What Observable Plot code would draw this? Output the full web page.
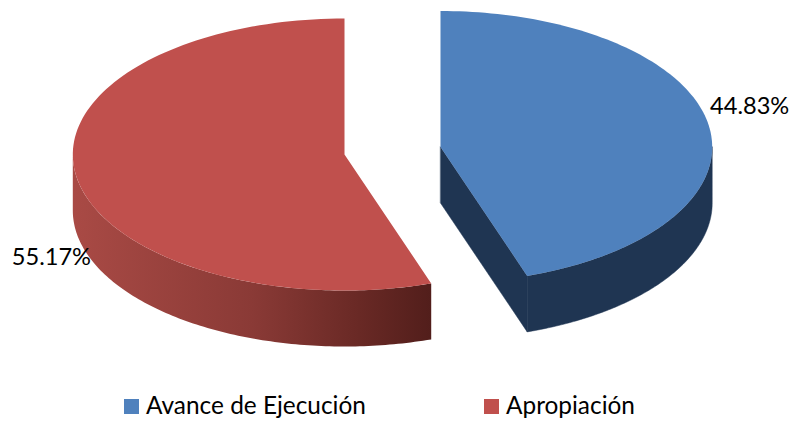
<!DOCTYPE html>
<html>
<head>
<meta charset="utf-8">
<script src="https://cdn.jsdelivr.net/npm/d3@7"></script>
<script src="https://cdn.jsdelivr.net/npm/@observablehq/plot@0.6"></script>
<style>
html,body{margin:0;padding:0;background:#fff;overflow:hidden}
#chart svg{display:block}
#legend{position:relative;width:794px;height:37px;font-family:Lato,sans-serif;font-size:24.4px;color:#000}
#legend i{position:absolute;top:14px;width:15px;height:15px}
#legend span{position:absolute;top:5px;line-height:29px;white-space:nowrap}
</style>
</head>
<body>
<div id="chart"></div>
<div id="legend"></div>
<script>
const categories = ["Avance de Ejecución", "Apropiación"];
const shares = [44.83, 55.17];
const labels = ["44.83%", "55.17%"];

// Layout of the exploded 3D pie
const colors = ["#4F81BD", "#C0504D"];
const centers = [[440, 146.5], [344, 154]];
const rx = 271.7, ry = 136, depth = 56;
const labelOffsets = [[41, -18.5], [-25, 81]];

const total = d3.sum(shares);
const starts = shares.map((_, i) => d3.sum(shares.slice(0, i)) / total * 2 * Math.PI);
const ends = shares.map((_, i) => d3.sum(shares.slice(0, i + 1)) / total * 2 * Math.PI);
const at = (i, a, drop = 0) => ({
  x: centers[i][0] + rx * Math.sin(a),
  y: centers[i][1] - ry * Math.cos(a) + drop
});
const arc = (i, a0, a1, drop = 0) =>
  d3.range(121).map(k => at(i, a0 + (a1 - a0) * k / 120, drop));
const apex = (i, drop = 0) => ({x: centers[i][0], y: centers[i][1] + drop});

// Top faces
const tops = categories.flatMap((category, i) =>
  [apex(i), ...arc(i, starts[i], ends[i])].map(p => ({...p, category})));

// Blue walls: outer rim from 3 o'clock to slice end, then the cut face
const blueRim = [...arc(0, Math.PI / 2, ends[0]), ...arc(0, ends[0], Math.PI / 2, depth)];
const blueCut = [apex(0), at(0, ends[0]), at(0, ends[0], depth), apex(0, depth)];
// Red wall: outer rim from slice start round to 9 o'clock
const redRim = [...arc(1, starts[1], 1.5 * Math.PI), ...arc(1, 1.5 * Math.PI, starts[1], depth)];

const labelData = categories.map((category, i) => {
  const mid = (starts[i] + ends[i]) / 2, p = at(i, mid);
  return {x: p.x + labelOffsets[i][0], y: p.y + labelOffsets[i][1], text: labels[i]};
});

const gradient = (index, {x}) => {
  const defs = d3.create("svg:defs");
  const g = defs.append("linearGradient").attr("id", "redWall")
    .attr("gradientUnits", "userSpaceOnUse")
    .attr("x1", x(centers[1][0] - rx)).attr("x2", x(at(1, starts[1]).x))
    .attr("y1", 0).attr("y2", 0);
  [[0, "#A94A45"], [0.5, "#8A3A36"], [0.8, "#692925"], [1, "#521E1B"]].forEach(([o, c]) =>
    g.append("stop").attr("offset", o).attr("stop-color", c));
  return defs.node();
};

const chart = Plot.plot({
  width: 794, height: 385, margin: 0,
  x: {domain: [0, 794], range: [0, 794], axis: null},
  y: {domain: [0, 385], range: [0, 385], axis: null},
  color: {domain: categories, range: colors},
  style: {background: "transparent"},
  marks: [
    gradient,
    Plot.line(blueRim, {x: "x", y: "y", fill: "#1F3552", stroke: "#1F3552", strokeWidth: 0.5, curve: "linear-closed"}),
    Plot.line(blueCut, {x: "x", y: "y", fill: "#1F3552", stroke: "#1F3552", strokeWidth: 0.5, curve: "linear-closed"}),
    Plot.line(redRim, {x: "x", y: "y", fill: "url(#redWall)", stroke: "none", curve: "linear-closed"}),
    Plot.line(tops, {x: "x", y: "y", z: "category", fill: "category", stroke: "none", curve: "linear-closed"}),
    Plot.text(labelData, {x: "x", y: "y", text: "text", fill: "#000", fontSize: 23.6, fontFamily: "Lato, sans-serif"})
  ]
});
document.getElementById("chart").append(chart);

const swatchX = [124, 484], textX = [146, 506];
const legend = d3.select("#legend");
categories.forEach((c, i) => {
  legend.append("i").style("left", swatchX[i] + "px").style("background", colors[i]);
  legend.append("span").style("left", textX[i] + "px").text(c);
});
</script>
</body>
</html>
